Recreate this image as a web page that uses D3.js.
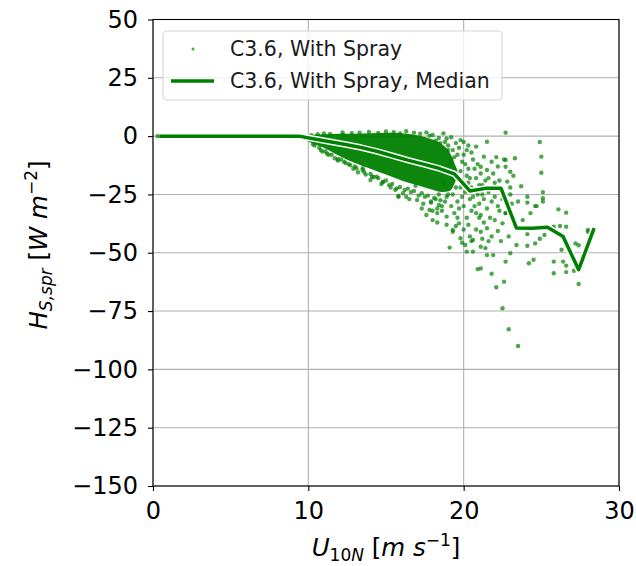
<!DOCTYPE html>
<html>
<head>
<meta charset="utf-8">
<script src="https://cdn.jsdelivr.net/npm/d3@7"></script>
<style>
   body { margin: 0; background: #fff; }
   svg { font-family: "DejaVu Sans", sans-serif; }
</style>
</head>
<body>
<svg id="chart" width="636" height="566"></svg>
<script>
// Axis ticks
var xTicks = [0, 10, 20, 30];
var yTicks = [50, 25, 0, -25, -50, -75, -100, -125, -150];

// Median of the spray heat flux per wind speed bin
var medianU = [0.4, 1.4, 2.4, 3.4, 4.4, 5.4, 6.4, 7.4, 8.4, 9.4, 10.4, 11.4, 12.4, 13.4, 14.4,
   15.4, 16.4, 17.4, 18.4, 19.4, 20.4, 21.4, 22.4, 23.4, 24.4, 25.4, 26.4, 27.4, 28.4];
var medianH = [0, 0, 0, 0, 0, 0, 0, 0, 0, 0, -1.2, -2.4, -3.6, -4.9, -6.5,
   -8.4, -10.3, -12, -13.8, -16.2, -23.5, -22.4, -22.3, -39.4, -39.5, -39.1, -43, -57.3, -39.4];

// Dense core of the scatter (where the points merge into one blob)
var coreU = [9.5, 10.0, 11.0, 12.0, 13.0, 14.0, 15.0, 16.0, 17.0, 18.0, 18.6, 19.1, 19.6];
var coreTop = [0, 0.4, 0.8, 1.0, 1.0, 1.2, 1.4, 1.2, 0.4, -1.5, -3.5, -7.0, -15.0];
var coreBottom = [-0.5, -2.3, -5.0, -8.5, -11.5, -14.0, -16.5, -19.0, -21.0, -23.0, -24.0, -23.5, -17.0];

// Points at zero flux for light winds
var zeroU = [0.3, 0.7, 1.1, 1.6, 2.0, 2.5, 2.9, 3.4, 3.8, 4.3, 4.7, 5.2, 5.6, 6.1, 6.5,
   7.0, 7.4, 7.9, 8.3, 8.8, 9.2, 9.6];

// Individual spray points: wind speed and flux
var sprayU = [10.2, 10.6, 11.0, 11.4, 12.2, 12.25, 12.8, 13.3, 13.9, 14.5, 15.0, 15.5, 15.9, 16.3, 16.8,
   17.2, 17.6, 18.0, 18.7, 19.2, 19.8, 20.2, 20.8, 21.5, 22.7, 24.9, 19.5, 20.0, 19.0,
   18.2, 18.5, 18.9, 19.3, 19.6,
   10.4, 10.8, 11.2, 11.7, 12.1, 12.6, 13.0, 13.5, 13.5, 14.0, 14.1, 14.4, 14.8, 14.8, 15.2,
   15.7, 15.8, 16.2, 16.3, 15.8, 16.6, 16.9, 17.0, 17.3, 17.5, 17.6, 17.8, 18.0, 18.0, 18.3,
   18.3, 18.4, 18.9, 19.1, 19.3, 19.3, 19.5, 19.7, 19.8, 19.9, 20.1, 20.2, 20.6, 20.4, 20.5, 20.6,
   19.2, 19.4, 19.6, 19.8, 19.9, 20.0, 20.1, 20.2, 20.3, 20.4, 20.5, 20.6, 20.7, 20.8, 20.9,
   21.0, 21.0, 21.1, 21.1, 21.2, 21.3, 21.3, 21.5, 21.5, 21.6, 21.8, 21.8, 22.0, 22.2, 22.2,
   22.3, 22.4, 22.6, 22.7, 22.7, 22.7, 22.8, 23.0, 23.0, 23.0, 23.1, 23.2, 23.3, 23.7, 23.5,
   24.1, 24.1, 24.3, 24.6, 25.0, 25.0, 25.1, 25.1, 25.1, 24.7, 26.1, 26.6,
   20.9, 21.1, 21.1, 21.1, 21.4, 21.5, 21.5, 21.8, 21.8, 21.9, 22.1, 22.2, 22.4, 22.5, 22.5,
   22.6, 22.7, 22.7, 22.9, 22.9, 23.0, 23.4, 23.5, 23.8, 23.8, 24.1, 24.1, 24.2, 24.5, 24.6,
   24.9, 25.2, 25.8, 25.8, 25.8, 26.2, 26.3, 26.4, 26.6, 26.6, 26.6, 27.1, 27.2, 27.4, 27.4,
   28.0, 28.0,
   10.9, 11.3, 11.9, 12.4, 12.9, 13.2, 13.7, 14.2, 14.7, 15.3, 15.6, 16.1, 16.5, 17.1, 17.4,
   17.9, 18.3, 18.6,
   17.8, 18.4, 18.8, 19.0, 19.4, 19.7, 20.0, 20.3, 20.5,
   19.1, 19.3, 19.5, 19.6, 19.7, 19.8, 19.9, 20.0, 20.1, 20.2, 20.3, 20.4, 20.5, 20.6, 20.7,
   20.8, 20.9, 21.0, 21.1, 21.2, 21.3, 21.4, 21.6, 21.7, 21.9, 22.0, 22.1, 22.3, 22.5, 19.4,
   19.2, 18.8, 18.6, 18.9, 19.0, 18.7, 18.4, 18.2, 17.9, 20.0, 20.3, 19.6, 20.8, 21.2, 22.0,
   21.6,
   10.3, 10.7, 11.1, 11.5, 11.9, 12.3, 12.7, 13.1, 13.6, 14.0, 14.5, 15.0, 15.4, 15.9, 16.4,
   16.8, 17.3, 17.7, 18.1, 18.5, 18.9, 19.3];
var sprayH = [0.4, 0.8, 1.2, 0.9, 1.6, 0.5, 1.3, 1.5, 1.8, 1.4, 2.0, 1.7, 1.2, 2.1, 1.5,
   1.0, 1.6, 0.5, 1.2, -0.5, -1.7, -6, -4.5, -2.4, 1.5, -2.5, -3, -2.5, -4,
   -2, -3, -1, -6, -8,
   -4, -6, -7.5, -9.5, -10, -12, -13, -14.5, -13.8, -18.8, -17.4, -17.4, -19.8, -19.5, -21,
   -22.4, -25.7, -23.1, -26, -26, -24, -21.3, -27.4, -31, -26, -33.8, -31.7, -36, -32, -37,
   -33, -29.5, -34.5, -47.8, -40.2, -41, -38.5, -37.4, -43.8, -45.7, -46.7, -49.5, -44.5, -43, -45, -49.5,
   -10, -14, -18, -22, -26, -30, -12, -17, -20, -27, -32, -10, -14, -18, -25,
   -29, -35, -13.1, -33.8, -21, -8.8, -27, -14.5, -31, -18, -11, -28, -20, -13, -30,
   -19, -23, -10, -33, -10.2, -13.1, -19.5, -15.3, -22, -25, -29, -17, -9.5, -21.5, -28,
   -26, -28.5, -33, -30, -8.8, -15.7, -24, -26.6, -28, -30, -31.4, -32.8,
   -57, -56.7, -47.4, -41, -48, -39.5, -51, -43, -59, -51, -64.8, -40.7, -45, -37.4, -73.8,
   -62.4, -53.8, -33, -43, -82.8, -50.2, -46.7, -90, -36, -39.5, -42, -47, -54.5, -53, -46,
   -44, -42.4, -38.8, -53.8, -58.8, -38.5, -48.7, -53.8, -38.8, -55.5, -58.3, -57.7, -46, -46.8, -63.4,
   -40.2, -41,
   -6.6, -8, -10.5, -11.5, -14, -15.5, -16.5, -17.5, -20.5, -22, -23, -24.5, -27, -25.5, -29,
   -28, -31, -30,
   0.2, -0.8, -2.5, -6, -9, -5, -8, -4, -7,
   -12, -18, -22, -28, -31, -15, -11, -20, -24, -35, -14, -18, -22, -26, -30,
   -33, -12, -21, -16, -25, -37, -19, -24, -35, -16, -26, -9, -32, -27, -33,
   -30, -28, -32, -38, -25, -20, -25, -27, -28.5, -40, -38, -35, -40, -44, -36,
   -45,
   -3.5, -5, -6.5, -8, -9.8, -11, -12.5, -13.8, -15.5, -16.2, -18, -19, -20.5, -21.8, -22.5,
   -23.5, -24.5, -25.5, -26.5, -27.5, -26, -25];

var green = "#008000";

window.onload = function() {
   drawChart();
};

function drawChart() {
   var svg = d3.select("#chart");

   var x = d3.scaleLinear().domain([0, 30]).range([153, 619]);
   var y = d3.scaleLinear().domain([-150, 50]).range([486, 19.5]);

   // Grid
   var grid = svg.append("g").attr("stroke", "#b0b0b0").attr("stroke-width", 1.1);
   grid.selectAll("line.gx")
      .data(xTicks)
      .enter().append("line")
         .attr("x1", function(d) { return x(d); })
         .attr("x2", function(d) { return x(d); })
         .attr("y1", y(-150)).attr("y2", y(50));
   grid.selectAll("line.gy")
      .data(yTicks)
      .enter().append("line")
         .attr("x1", x(0)).attr("x2", x(30))
         .attr("y1", function(d) { return y(d); })
         .attr("y2", function(d) { return y(d); });

   // Dense core of the cloud
   var core = coreU.map(function(u, i) { return [u, coreTop[i], coreBottom[i]]; });
   svg.append("path")
      .datum(core)
      .attr("fill", green)
      .attr("fill-opacity", 0.95)
      .attr("d", d3.area()
         .curve(d3.curveMonotoneX)
         .x(function(d) { return x(d[0]); })
         .y0(function(d) { return y(d[2]); })
         .y1(function(d) { return y(d[1]); }));

   // Scatter points
   var pts = zeroU.map(function(u) { return [u, 0]; })
      .concat(sprayU.map(function(u, i) { return [u, sprayH[i]]; }));
   svg.append("g")
      .selectAll("circle")
      .data(pts)
      .enter().append("circle")
         .attr("cx", function(d) { return x(d[0]); })
         .attr("cy", function(d) { return y(d[1]); })
         .attr("r", 2.2)
         .attr("fill", green)
         .attr("fill-opacity", 0.7);

   // Median with a white edge
   var med = medianU.map(function(u, i) { return [u, medianH[i]]; });
   var line = d3.line()
      .x(function(d) { return x(d[0]); })
      .y(function(d) { return y(d[1]); });
   svg.append("path")
      .datum(med)
      .attr("d", line)
      .attr("fill", "none")
      .attr("stroke", "#fff")
      .attr("stroke-width", 6.5)
      .attr("stroke-linejoin", "round");
   svg.append("path")
      .datum(med)
      .attr("d", line)
      .attr("fill", "none")
      .attr("stroke", green)
      .attr("stroke-width", 3.5)
      .attr("stroke-linejoin", "round");

   // Axes
   var xAxis = svg.append("g")
      .attr("transform", "translate(0," + y(-150) + ")")
      .call(d3.axisBottom(x).tickValues(xTicks).tickSize(5).tickPadding(11).tickSizeOuter(0));
   var yAxis = svg.append("g")
      .attr("transform", "translate(" + x(0) + ",0)")
      .call(d3.axisLeft(y).tickValues(yTicks).tickSize(5).tickPadding(10).tickSizeOuter(0));
   [xAxis, yAxis].forEach(function(a) {
      a.select(".domain").remove();
      a.selectAll("line").attr("stroke", "#000").attr("stroke-width", 1.1);
      a.selectAll("text")
         .attr("font-size", 24)
         .attr("font-family", "DejaVu Sans")
         .attr("fill", "#000");
   });

   // Frame
   svg.append("rect")
      .attr("x", x(0)).attr("y", y(50))
      .attr("width", x(30) - x(0)).attr("height", y(-150) - y(50))
      .attr("fill", "none")
      .attr("stroke", "#000")
      .attr("stroke-width", 1.1);

   // Axis labels (mathtext look)
   var xl = svg.append("text")
      .attr("x", 386).attr("y", 556)
      .attr("text-anchor", "middle")
      .attr("font-size", 24.5);
   xl.append("tspan").attr("font-style", "italic").text("U");
   xl.append("tspan").attr("font-size", 17).attr("dy", 5).text("10");
   xl.append("tspan").attr("font-size", 17).attr("font-style", "italic").text("N");
   xl.append("tspan").attr("dy", -5).text(" [");
   xl.append("tspan").attr("font-style", "italic").text("m s");
   xl.append("tspan").attr("font-size", 17).attr("dy", -10).text("−1");
   xl.append("tspan").attr("dy", 10).text("]");

   var yl = svg.append("text")
      .attr("transform", "translate(47,245) rotate(-90)")
      .attr("text-anchor", "middle")
      .attr("font-size", 24.5);
   yl.append("tspan").attr("font-style", "italic").text("H");
   yl.append("tspan").attr("font-size", 17).attr("font-style", "italic").attr("dy", 5).text("S,spr");
   yl.append("tspan").attr("dy", -5).text(" [");
   yl.append("tspan").attr("font-style", "italic").text("W m");
   yl.append("tspan").attr("font-size", 17).attr("dy", -10).text("−2");
   yl.append("tspan").attr("dy", 10).text("]");

   // Legend
   var lg = svg.append("g");
   lg.append("rect")
      .attr("x", 163).attr("y", 31)
      .attr("width", 339).attr("height", 69)
      .attr("rx", 4)
      .attr("fill", "#fff").attr("fill-opacity", 0.8)
      .attr("stroke", "#d6d6d6").attr("stroke-width", 1.1);
   lg.append("circle")
      .attr("cx", 193).attr("cy", 49).attr("r", 1.5)
      .attr("fill", green).attr("fill-opacity", 0.7);
   lg.append("line")
      .attr("x1", 171).attr("x2", 214)
      .attr("y1", 81).attr("y2", 81)
      .attr("stroke", green).attr("stroke-width", 3.5);
   lg.selectAll("text.lbl")
      .data(["C3.6, With Spray", "C3.6, With Spray, Median"])
      .enter().append("text")
         .attr("x", 230)
         .attr("y", function(d, i) { return 56 + i * 32; })
         .attr("font-size", 20.5)
         .attr("fill", "#1a1a1a")
         .text(function(d) { return d; });
}
</script>
</body>
</html>
